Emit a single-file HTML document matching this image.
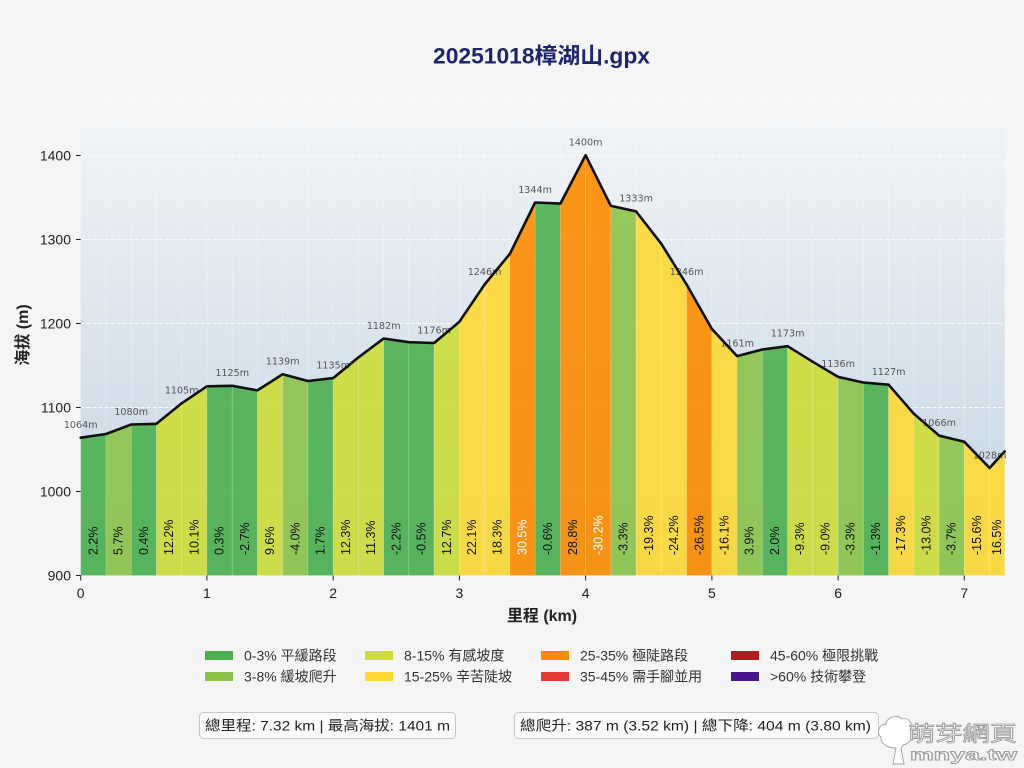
<!DOCTYPE html>
<html><head><meta charset="utf-8"><style>
html,body{margin:0;padding:0;background:#f5f5f5;}
svg{display:block;}
text{font-family:"Liberation Sans","Noto Sans CJK TC",sans-serif;}
.el{font-family:"DejaVu Sans","Liberation Sans",sans-serif;font-size:9.6px;fill:#555;text-anchor:middle;}
.bl{font-size:12.5px;fill:#111;}
.bw{font-size:12.5px;fill:#fff;}
.tk{font-size:14px;fill:#222;}
.lg{font-size:14px;fill:#333;}
</style></head><body>
<svg width="1024" height="768" viewBox="0 0 1024 768" xmlns="http://www.w3.org/2000/svg">
<defs>
<linearGradient id="bg" x1="0" y1="0" x2="0" y2="1">
<stop offset="0" stop-color="#f5f6f7"/>
<stop offset="1" stop-color="#c0d3e4"/>
</linearGradient>
</defs>
<rect width="1024" height="768" fill="#f5f5f5"/>
<text x="541.5" y="63.5" text-anchor="middle" font-size="22" font-weight="bold" fill="#1c2569" textLength="217" lengthAdjust="spacingAndGlyphs">20251018樟湖山.gpx</text>

<rect x="80.7" y="95" width="924" height="480.5" fill="url(#bg)"/>
<g stroke="#fff" stroke-opacity="0.3" stroke-width="0.8">
<line x1="106" y1="95" x2="106" y2="575"/><line x1="131.2" y1="95" x2="131.2" y2="575"/><line x1="156.4" y1="95" x2="156.4" y2="575"/><line x1="181.7" y1="95" x2="181.7" y2="575"/><line x1="206.9" y1="95" x2="206.9" y2="575"/><line x1="232.2" y1="95" x2="232.2" y2="575"/><line x1="257.4" y1="95" x2="257.4" y2="575"/><line x1="282.7" y1="95" x2="282.7" y2="575"/><line x1="307.9" y1="95" x2="307.9" y2="575"/><line x1="333.2" y1="95" x2="333.2" y2="575"/><line x1="358.4" y1="95" x2="358.4" y2="575"/><line x1="383.7" y1="95" x2="383.7" y2="575"/><line x1="408.9" y1="95" x2="408.9" y2="575"/><line x1="434.1" y1="95" x2="434.1" y2="575"/><line x1="459.4" y1="95" x2="459.4" y2="575"/><line x1="484.6" y1="95" x2="484.6" y2="575"/><line x1="509.9" y1="95" x2="509.9" y2="575"/><line x1="535.1" y1="95" x2="535.1" y2="575"/><line x1="560.4" y1="95" x2="560.4" y2="575"/><line x1="585.6" y1="95" x2="585.6" y2="575"/><line x1="610.9" y1="95" x2="610.9" y2="575"/><line x1="636.1" y1="95" x2="636.1" y2="575"/><line x1="661.4" y1="95" x2="661.4" y2="575"/><line x1="686.6" y1="95" x2="686.6" y2="575"/><line x1="711.9" y1="95" x2="711.9" y2="575"/><line x1="737.1" y1="95" x2="737.1" y2="575"/><line x1="762.3" y1="95" x2="762.3" y2="575"/><line x1="787.6" y1="95" x2="787.6" y2="575"/><line x1="812.8" y1="95" x2="812.8" y2="575"/><line x1="838.1" y1="95" x2="838.1" y2="575"/><line x1="863.3" y1="95" x2="863.3" y2="575"/><line x1="888.6" y1="95" x2="888.6" y2="575"/><line x1="913.8" y1="95" x2="913.8" y2="575"/><line x1="939.1" y1="95" x2="939.1" y2="575"/><line x1="964.3" y1="95" x2="964.3" y2="575"/><line x1="989.6" y1="95" x2="989.6" y2="575"/>
</g>
<g stroke="#fff" stroke-opacity="0.85" stroke-width="1" stroke-dasharray="4,2">
<line x1="80.7" y1="155.5" x2="1004.7" y2="155.5"/>
<line x1="80.7" y1="239.5" x2="1004.7" y2="239.5"/>
<line x1="80.7" y1="323.5" x2="1004.7" y2="323.5"/>
<line x1="80.7" y1="407.5" x2="1004.7" y2="407.5"/>
<line x1="80.7" y1="491.5" x2="1004.7" y2="491.5"/>
</g>

<g fill-opacity="0.9" stroke="#fff" stroke-opacity="0.25" stroke-width="0.6">
<polygon fill="#4caf50" points="80.7,575.5 80.7,437.7 106.0,434.0 106.0,575.5"/>
<polygon fill="#8bc34a" points="106.0,575.5 106.0,434.0 131.2,424.5 131.2,575.5"/>
<polygon fill="#4caf50" points="131.2,575.5 131.2,424.5 156.4,423.8 156.4,575.5"/>
<polygon fill="#cddc39" points="156.4,575.5 156.4,423.8 181.7,403.3 181.7,575.5"/>
<polygon fill="#cddc39" points="181.7,575.5 181.7,403.3 206.9,386.3 206.9,575.5"/>
<polygon fill="#4caf50" points="206.9,575.5 206.9,386.3 232.2,385.8 232.2,575.5"/>
<polygon fill="#4caf50" points="232.2,575.5 232.2,385.8 257.4,390.4 257.4,575.5"/>
<polygon fill="#cddc39" points="257.4,575.5 257.4,390.4 282.7,374.2 282.7,575.5"/>
<polygon fill="#8bc34a" points="282.7,575.5 282.7,374.2 307.9,381.0 307.9,575.5"/>
<polygon fill="#4caf50" points="307.9,575.5 307.9,381.0 333.2,378.1 333.2,575.5"/>
<polygon fill="#cddc39" points="333.2,575.5 333.2,378.1 358.4,357.4 358.4,575.5"/>
<polygon fill="#cddc39" points="358.4,575.5 358.4,357.4 383.7,338.5 383.7,575.5"/>
<polygon fill="#4caf50" points="383.7,575.5 383.7,338.5 408.9,342.2 408.9,575.5"/>
<polygon fill="#4caf50" points="408.9,575.5 408.9,342.2 434.1,343.0 434.1,575.5"/>
<polygon fill="#cddc39" points="434.1,575.5 434.1,343.0 459.4,321.7 459.4,575.5"/>
<polygon fill="#fdd835" points="459.4,575.5 459.4,321.7 484.6,284.5 484.6,575.5"/>
<polygon fill="#fdd835" points="484.6,575.5 484.6,284.5 509.9,253.8 509.9,575.5"/>
<polygon fill="#fb8c00" points="509.9,575.5 509.9,253.8 535.1,202.5 535.1,575.5"/>
<polygon fill="#4caf50" points="535.1,575.5 535.1,202.5 560.4,203.6 560.4,575.5"/>
<polygon fill="#fb8c00" points="560.4,575.5 560.4,203.6 585.6,155.2 585.6,575.5"/>
<polygon fill="#fb8c00" points="585.6,575.5 585.6,155.2 610.9,205.9 610.9,575.5"/>
<polygon fill="#8bc34a" points="610.9,575.5 610.9,205.9 636.1,211.4 636.1,575.5"/>
<polygon fill="#fdd835" points="636.1,575.5 636.1,211.4 661.4,243.9 661.4,575.5"/>
<polygon fill="#fdd835" points="661.4,575.5 661.4,243.9 686.6,284.5 686.6,575.5"/>
<polygon fill="#fb8c00" points="686.6,575.5 686.6,284.5 711.9,329.0 711.9,575.5"/>
<polygon fill="#fdd835" points="711.9,575.5 711.9,329.0 737.1,356.1 737.1,575.5"/>
<polygon fill="#8bc34a" points="737.1,575.5 737.1,356.1 762.3,349.5 762.3,575.5"/>
<polygon fill="#4caf50" points="762.3,575.5 762.3,349.5 787.6,346.2 787.6,575.5"/>
<polygon fill="#cddc39" points="787.6,575.5 787.6,346.2 812.8,361.8 812.8,575.5"/>
<polygon fill="#cddc39" points="812.8,575.5 812.8,361.8 838.1,376.9 838.1,575.5"/>
<polygon fill="#8bc34a" points="838.1,575.5 838.1,376.9 863.3,382.5 863.3,575.5"/>
<polygon fill="#4caf50" points="863.3,575.5 863.3,382.5 888.6,384.7 888.6,575.5"/>
<polygon fill="#fdd835" points="888.6,575.5 888.6,384.7 913.8,413.7 913.8,575.5"/>
<polygon fill="#cddc39" points="913.8,575.5 913.8,413.7 939.1,435.6 939.1,575.5"/>
<polygon fill="#8bc34a" points="939.1,575.5 939.1,435.6 964.3,441.8 964.3,575.5"/>
<polygon fill="#fdd835" points="964.3,575.5 964.3,441.8 989.6,468.0 989.6,575.5"/>
<polygon fill="#fdd835" points="989.6,575.5 989.6,468.0 1004.7,451.4 1004.7,575.5"/>
</g>

<g dominant-baseline="central">
<text class="bl" transform="translate(93.4,555) rotate(-90)">2.2%</text>
<text class="bl" transform="translate(118.6,555) rotate(-90)">5.7%</text>
<text class="bl" transform="translate(143.8,555) rotate(-90)">0.4%</text>
<text class="bl" transform="translate(169.1,555) rotate(-90)">12.2%</text>
<text class="bl" transform="translate(194.3,555) rotate(-90)">10.1%</text>
<text class="bl" transform="translate(219.6,555) rotate(-90)">0.3%</text>
<text class="bl" transform="translate(244.8,555) rotate(-90)">-2.7%</text>
<text class="bl" transform="translate(270.1,555) rotate(-90)">9.6%</text>
<text class="bl" transform="translate(295.3,555) rotate(-90)">-4.0%</text>
<text class="bl" transform="translate(320.6,555) rotate(-90)">1.7%</text>
<text class="bl" transform="translate(345.8,555) rotate(-90)">12.3%</text>
<text class="bl" transform="translate(371.1,555) rotate(-90)">11.3%</text>
<text class="bl" transform="translate(396.3,555) rotate(-90)">-2.2%</text>
<text class="bl" transform="translate(421.5,555) rotate(-90)">-0.5%</text>
<text class="bl" transform="translate(446.8,555) rotate(-90)">12.7%</text>
<text class="bl" transform="translate(472.0,555) rotate(-90)">22.1%</text>
<text class="bl" transform="translate(497.3,555) rotate(-90)">18.3%</text>
<text class="bw" transform="translate(522.5,555) rotate(-90)">30.5%</text>
<text class="bl" transform="translate(547.8,555) rotate(-90)">-0.6%</text>
<text class="bl" transform="translate(573.0,555) rotate(-90)">28.8%</text>
<text class="bw" transform="translate(598.3,555) rotate(-90)">-30.2%</text>
<text class="bl" transform="translate(623.5,555) rotate(-90)">-3.3%</text>
<text class="bl" transform="translate(648.8,555) rotate(-90)">-19.3%</text>
<text class="bl" transform="translate(674.0,555) rotate(-90)">-24.2%</text>
<text class="bl" transform="translate(699.3,555) rotate(-90)">-26.5%</text>
<text class="bl" transform="translate(724.5,555) rotate(-90)">-16.1%</text>
<text class="bl" transform="translate(749.7,555) rotate(-90)">3.9%</text>
<text class="bl" transform="translate(775.0,555) rotate(-90)">2.0%</text>
<text class="bl" transform="translate(800.2,555) rotate(-90)">-9.3%</text>
<text class="bl" transform="translate(825.5,555) rotate(-90)">-9.0%</text>
<text class="bl" transform="translate(850.7,555) rotate(-90)">-3.3%</text>
<text class="bl" transform="translate(876.0,555) rotate(-90)">-1.3%</text>
<text class="bl" transform="translate(901.2,555) rotate(-90)">-17.3%</text>
<text class="bl" transform="translate(926.5,555) rotate(-90)">-13.0%</text>
<text class="bl" transform="translate(951.7,555) rotate(-90)">-3.7%</text>
<text class="bl" transform="translate(977.0,555) rotate(-90)">-15.6%</text>
<text class="bl" transform="translate(997.2,555) rotate(-90)">16.5%</text>
</g>

<g>
<text class="el" x="80.7" y="428">1064m</text>
<text class="el" x="131.2" y="414.8">1080m</text>
<text class="el" x="181.7" y="393.6">1105m</text>
<text class="el" x="232.2" y="376.1">1125m</text>
<text class="el" x="282.7" y="364.5">1139m</text>
<text class="el" x="333.2" y="368.4">1135m</text>
<text class="el" x="383.7" y="328.8">1182m</text>
<text class="el" x="434.1" y="333.3">1176m</text>
<text class="el" x="484.6" y="274.8">1246m</text>
<text class="el" x="535.1" y="192.8">1344m</text>
<text class="el" x="585.6" y="145.5">1400m</text>
<text class="el" x="636.1" y="201.7">1333m</text>
<text class="el" x="686.6" y="274.8">1246m</text>
<text class="el" x="737.1" y="346.4">1161m</text>
<text class="el" x="787.6" y="336.5">1173m</text>
<text class="el" x="838.1" y="367.2">1136m</text>
<text class="el" x="888.6" y="375">1127m</text>
<text class="el" x="939.1" y="425.9">1066m</text>
<text class="el" x="989.6" y="458.3">1028m</text>
</g>

<polyline fill="none" stroke="#111" stroke-width="2.6" stroke-linejoin="round" stroke-linecap="round" points="80.7,437.7 106.0,434.0 131.2,424.5 156.4,423.8 181.7,403.3 206.9,386.3 232.2,385.8 257.4,390.4 282.7,374.2 307.9,381.0 333.2,378.1 358.4,357.4 383.7,338.5 408.9,342.2 434.1,343.0 459.4,321.7 484.6,284.5 509.9,253.8 535.1,202.5 560.4,203.6 585.6,155.2 610.9,205.9 636.1,211.4 661.4,243.9 686.6,284.5 711.9,329.0 737.1,356.1 762.3,349.5 787.6,346.2 812.8,361.8 838.1,376.9 863.3,382.5 888.6,384.7 913.8,413.7 939.1,435.6 964.3,441.8 989.6,468.0 1004.7,451.4"/>

<g stroke="#222" stroke-width="1">
<line x1="76" y1="155.5" x2="80.7" y2="155.5"/>
<line x1="76" y1="239.5" x2="80.7" y2="239.5"/>
<line x1="76" y1="323.5" x2="80.7" y2="323.5"/>
<line x1="76" y1="407.5" x2="80.7" y2="407.5"/>
<line x1="76" y1="491.5" x2="80.7" y2="491.5"/>
<line x1="76" y1="575.5" x2="80.7" y2="575.5"/>
<line x1="80.7" y1="575.5" x2="80.7" y2="580.5"/>
<line x1="206.9" y1="575.5" x2="206.9" y2="580.5"/>
<line x1="333.2" y1="575.5" x2="333.2" y2="580.5"/>
<line x1="459.4" y1="575.5" x2="459.4" y2="580.5"/>
<line x1="585.6" y1="575.5" x2="585.6" y2="580.5"/>
<line x1="711.9" y1="575.5" x2="711.9" y2="580.5"/>
<line x1="838.1" y1="575.5" x2="838.1" y2="580.5"/>
<line x1="964.3" y1="575.5" x2="964.3" y2="580.5"/>
</g>
<g text-anchor="end">
<text class="tk" x="71" y="160.5">1400</text>
<text class="tk" x="71" y="244.5">1300</text>
<text class="tk" x="71" y="328.5">1200</text>
<text class="tk" x="71" y="412.5">1100</text>
<text class="tk" x="71" y="496.5">1000</text>
<text class="tk" x="71" y="580.5">900</text>
</g>
<g text-anchor="middle">
<text class="tk" x="80.7" y="598">0</text>
<text class="tk" x="206.9" y="598">1</text>
<text class="tk" x="333.2" y="598">2</text>
<text class="tk" x="459.4" y="598">3</text>
<text class="tk" x="585.6" y="598">4</text>
<text class="tk" x="711.9" y="598">5</text>
<text class="tk" x="838.1" y="598">6</text>
<text class="tk" x="964.3" y="598">7</text>
</g>
<text x="542" y="621" text-anchor="middle" font-size="16" font-weight="bold" fill="#222">里程 (km)</text>
<text transform="translate(28,335) rotate(-90)" text-anchor="middle" font-size="16" font-weight="bold" fill="#222">海拔 (m)</text>

<g>
<rect x="205" y="651" width="28" height="9" fill="#4caf50"/>
<rect x="205" y="672" width="28" height="9" fill="#8bc34a"/>
<rect x="365" y="651" width="28" height="9" fill="#cddc39"/>
<rect x="365" y="672" width="28" height="9" fill="#fdd835"/>
<rect x="541" y="651" width="28" height="9" fill="#fb8c00"/>
<rect x="541" y="672" width="28" height="9" fill="#e53935"/>
<rect x="731" y="651" width="28" height="9" fill="#b71c1c"/>
<rect x="731" y="672" width="28" height="9" fill="#4a148c"/>
<text class="lg" x="244" y="660.5">0-3% 平緩路段</text>
<text class="lg" x="244" y="681.5">3-8% 緩坡爬升</text>
<text class="lg" x="404" y="660.5">8-15% 有感坡度</text>
<text class="lg" x="404" y="681.5">15-25% 辛苦陡坡</text>
<text class="lg" x="580" y="660.5">25-35% 極陡路段</text>
<text class="lg" x="580" y="681.5">35-45% 需手腳並用</text>
<text class="lg" x="770" y="660.5">45-60% 極限挑戰</text>
<text class="lg" x="770" y="681.5">&gt;60% 技術攀登</text>
</g>

<rect x="199.5" y="712.5" width="256" height="26" rx="4" fill="#fbfbfb" stroke="#c8c8c8"/>
<text x="205" y="730.5" font-size="14" fill="#222" textLength="245" lengthAdjust="spacingAndGlyphs">總里程: 7.32 km | 最高海拔: 1401 m</text>
<rect x="514.5" y="712.5" width="364" height="26" rx="4" fill="#fbfbfb" stroke="#c8c8c8"/>
<text x="520" y="730.5" font-size="14" fill="#222" textLength="351" lengthAdjust="spacingAndGlyphs">總爬升: 387 m (3.52 km) | 總下降: 404 m (3.80 km)</text>

<g fill="#fff" stroke="#a0a0a0" stroke-width="0.9">
<path d="M893,764 L896,748 C888,748 880,744 881,737 C876,733 879,724 886,724 C887,717 897,714 902,719 C909,717 914,724 910,730 C914,736 910,744 903,745 L901,748 L904,764 Z"/>
<text x="908" y="741" font-size="21" textLength="109" lengthAdjust="spacingAndGlyphs">萌芽網頁</text>
<text x="910" y="760" font-size="16" font-weight="bold" textLength="107" lengthAdjust="spacingAndGlyphs">mnya.tw</text>
</g>
</svg>
</body></html>
